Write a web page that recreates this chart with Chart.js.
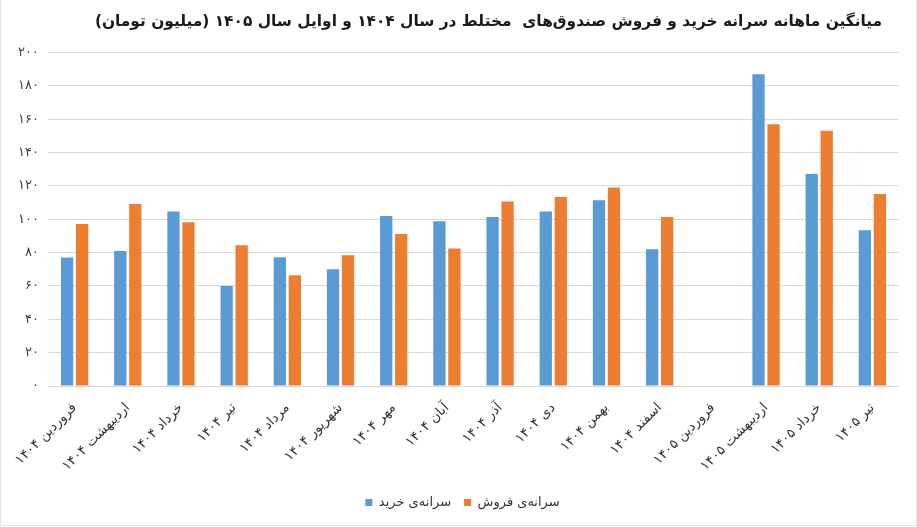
<!DOCTYPE html>
<html>
<head>
<meta charset="utf-8">
<script src="https://cdn.jsdelivr.net/npm/chart.js@4/dist/chart.umd.min.js"></script>
<style>
  html, body { margin: 0; padding: 0; background: #ffffff; }
  #wrap { position: relative; width: 917px; height: 527px; }
  #wrap::after { content: ""; position: absolute; left: 0; top: -2px; width: 915px; height: 526px;
    border: 1px solid #e3e3e3; pointer-events: none; }
  canvas { display: block; }
</style>
</head>
<body>
<div id="wrap"><canvas id="c" width="917" height="527" dir="rtl"></canvas></div>
<script>
const titleText = 'میانگین ماهانه سرانه خرید و فروش صندوق‌های  مختلط در سال ۱۴۰۴ و اوایل سال ۱۴۰۵ (میلیون تومان)';
const categories = ['فروردین ۱۴۰۴','اردیبهشت ۱۴۰۴','خرداد ۱۴۰۴','تیر ۱۴۰۴','مرداد ۱۴۰۴','شهریور ۱۴۰۴','مهر ۱۴۰۴','آبان ۱۴۰۴','آذر ۱۴۰۴','دی ۱۴۰۴','بهمن ۱۴۰۴','اسفند ۱۴۰۴','فروردین ۱۴۰۵','اردیبهشت ۱۴۰۵','خرداد ۱۴۰۵','تیر ۱۴۰۵'];
const seriesNames = ['سرانه‌ی خرید', 'سرانه‌ی فروش'];
const buyValues = [77, 81, 104.6, 60, 77.2, 70, 102, 98.8, 101.4, 104.6, 111.4, 82, null, 186.9, 127.2, 93.4];
const sellValues = [97.2, 109.2, 98.2, 84.4, 66.4, 78.4, 91.2, 82.4, 110.6, 113.4, 119, 101.4, null, 157, 153, 115.2];
const yTickLabels = ['۰','۲۰','۴۰','۶۰','۸۰','۱۰۰','۱۲۰','۱۴۰','۱۶۰','۱۸۰','۲۰۰'];

const FONT = "'DejaVu Sans', 'Noto Sans', sans-serif";

// shifts the title block to the right, as in the reference
const titleShift = {
  id: 'titleShift',
  afterLayout(chart) {
    const t = chart.titleBlock;
    if (t) { t.left += 52; }
  }
};

new Chart(document.getElementById('c'), {
  type: 'bar',
  data: {
    labels: categories,
    datasets: [
      { label: seriesNames[0], data: buyValues, backgroundColor: '#5B9BD5', borderWidth: 0,
        categoryPercentage: 0.564, barPercentage: 0.82 },
      { label: seriesNames[1], data: sellValues, backgroundColor: '#ED7D31', borderWidth: 0,
        categoryPercentage: 0.564, barPercentage: 0.82 }
    ]
  },
  plugins: [titleShift],
  options: {
    responsive: false,
    animation: false,
    layout: { padding: { left: 8, right: 0, top: 0, bottom: 8 } },
    plugins: {
      title: {
        display: true,
        text: titleText,
        color: '#1a1a1a',
        font: { family: FONT, size: 15.4, weight: 'bold' },
        padding: { top: 13, bottom: 21 }
      },
      legend: {
        position: 'bottom',
        labels: {
          color: '#333333',
          font: { family: FONT, size: 13 },
          boxWidth: 7, boxHeight: 7, padding: 13
        }
      },
      tooltip: { enabled: false }
    },
    scales: {
      x: {
        grid: { display: false },
        border: { display: false },
        ticks: {
          color: '#333333',
          font: { family: FONT, size: 13.5 },
          minRotation: 45, maxRotation: 45,
          autoSkip: false, padding: 6
        },
        afterFit: (s) => { s.height = 97; }
      },
      y: {
        min: 0, max: 200,
        grid: { color: '#d9d9d9', lineWidth: 1, drawTicks: false },
        border: { display: false },
        ticks: {
          stepSize: 20,
          color: '#404040',
          font: { family: FONT, size: 13 },
          padding: 9,
          callback: (v) => yTickLabels[Math.round(v / 20)]
        },
        afterFit: (s) => { s.width = 40; }
      },
      yRight: {
        position: 'right',
        display: true,
        grid: { display: false },
        border: { display: false },
        ticks: { display: false },
        afterFit: (s) => { s.width = 18; }
      }
    }
  }
});
</script>
</body>
</html>
